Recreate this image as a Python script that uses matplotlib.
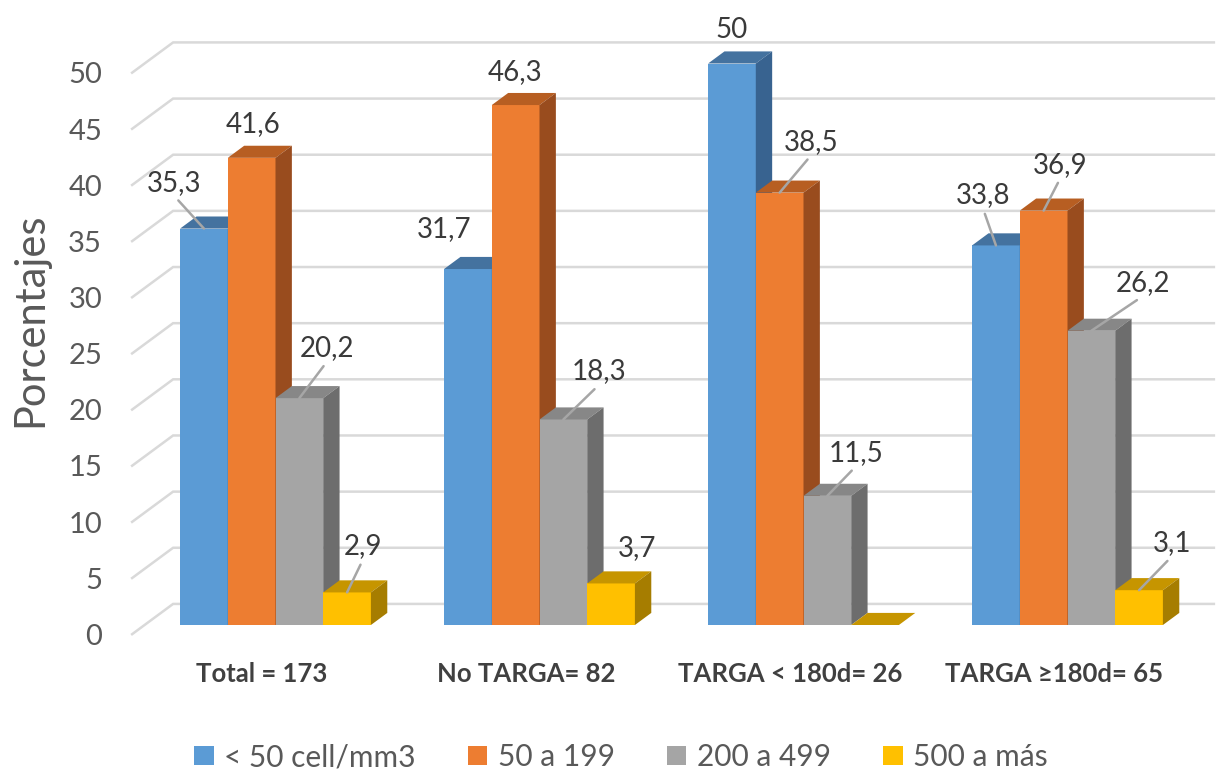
import matplotlib
matplotlib.use("Agg")
import matplotlib.pyplot as plt
from matplotlib.patches import Polygon, Patch

plt.rcParams['font.family'] = ['Lato', 'DejaVu Sans']

# data
categories = ["Total = 173", "No TARGA= 82", "TARGA < 180d= 26", "TARGA \u2265180d= 65"]
series_names = ["< 50 cell/mm3", "50 a 199", "200 a 499", "500 a más"]
cd4_lt50 = [35.3, 31.7, 50.0, 33.8]
cd4_50_199 = [41.6, 46.3, 38.5, 36.9]
cd4_200_499 = [20.2, 18.3, 11.5, 26.2]
cd4_500_plus = [2.9, 3.7, 0.0, 3.1]
series = [cd4_lt50, cd4_50_199, cd4_200_499, cd4_500_plus]
yticks = [0, 5, 10, 15, 20, 25, 30, 35, 40, 45, 50]

# face colours: front, top, right side
front_col = ["#5B9BD5", "#ED7D31", "#A5A5A5", "#FFC000"]
top_col = ["#44729F", "#B75E22", "#878787", "#C69500"]
side_col = ["#386390", "#994C1E", "#6D6D6D", "#A67D00"]

# label placement (pixels from the top front edge of each bar), leader line on/off
label_pos = [
    [(-30, 46, True), (-24, 40, False), (0, 34, False), (-13, 50, True)],
    [(1, 34, False), (-1, 33, False), (32, 51, True), (17, 46, True)],
    [(28, 50, True), (36, 48, True), (29, 43, True), (52, 48, True)],
    [(16, 46, True), (26, 35, False), (0, 0, False), (33, 47, True)],
]

# fake 3d: depth shifts things right and up
BAR_W = 0.1807
DX, DY = 0.159, 2.76      # shift for one full depth unit, data units
Z0, Z1 = 0.32, 0.71       # front / back of the bars
WALL_L, WALL_R = -0.496, 3.451


def proj(x, v, z):
    return x + (z - Z0) * DX, v + (z - Z0) * DY


fig = plt.figure(figsize=(12.19, 7.70), dpi=100)
ax = fig.add_axes([0, 0, 1, 1])
ax.set_xlim(-275.5 / 264, (1219 - 275.5) / 264)
ax.set_ylim(-145 / 11.23, 625 / 11.23)
ax.set_axis_off()

# side wall + back wall gridlines
for v in yticks:
    pts = [proj(WALL_L, v, 0), proj(WALL_L, v, 1), proj(WALL_R, v, 1)]
    ax.plot([p[0] for p in pts], [p[1] for p in pts], color="#D9D9D9",
            lw=1.8, zorder=1, solid_capstyle="butt", solid_joinstyle="miter")
    ax.annotate(str(v), xy=proj(WALL_L, v, 0), xytext=(-29, -2),
                textcoords="offset pixels", ha="right", va="center",
                fontsize=21, color="#595959")

for j, vals in enumerate(series):
    xs = [i + (j - 1.5) * BAR_W for i in range(len(categories))]
    ax.bar(xs, vals, width=BAR_W, color=front_col[j], linewidth=0, zorder=2 + j)
    for i, (x, v) in enumerate(zip(xs, vals)):
        xl, xr = x - BAR_W / 2, x + BAR_W / 2
        top = [proj(xl, v, Z0), proj(xr, v, Z0), proj(xr, v, Z1), proj(xl, v, Z1)]
        side = [proj(xr, 0, Z0), proj(xr, v, Z0), proj(xr, v, Z1), proj(xr, 0, Z1)]
        ax.add_patch(Polygon(top, closed=True, facecolor=top_col[j], lw=0, zorder=2 + j))
        ax.add_patch(Polygon(side, closed=True, facecolor=side_col[j], lw=0, zorder=2 + j))
        if v == 0:
            continue
        dx, dy, leader = label_pos[j][i]
        arrow = None
        if leader:
            arrow = dict(arrowstyle="-", color="#A6A6A6", lw=1.8,
                         relpos=(0.5, 0), shrinkA=2, shrinkB=0)
        ax.annotate(f"{v:.1f}".replace(".", ",").replace(",0", ""),
                    xy=(x, v), xytext=(dx, dy), textcoords="offset pixels",
                    ha="center", va="center", fontsize=20, color="#3A3A3A",
                    arrowprops=arrow, zorder=10)

for i, cat in enumerate(categories):
    ax.annotate(cat, xy=proj(i, 0, 0), xytext=(0, -39), textcoords="offset pixels",
                ha="center", va="center", fontsize=18.5, fontweight="bold",
                color="#404040")

fig.text(30 / 1219, 1 - 320 / 770, "Porcentajes", rotation=90, ha="center",
         va="center", fontsize=30, color="#595959")

handles = [Patch(facecolor=c, edgecolor="none") for c in front_col]
fig.legend(handles, series_names, loc="center", bbox_to_anchor=(621 / 1219, 1 - 757 / 770),
           ncol=4, frameon=False, fontsize=21.5, handlelength=0.65, handleheight=0.6,
           handletextpad=0.35, columnspacing=1.75, labelcolor="#595959")

fig.savefig("out.png", dpi=100)
